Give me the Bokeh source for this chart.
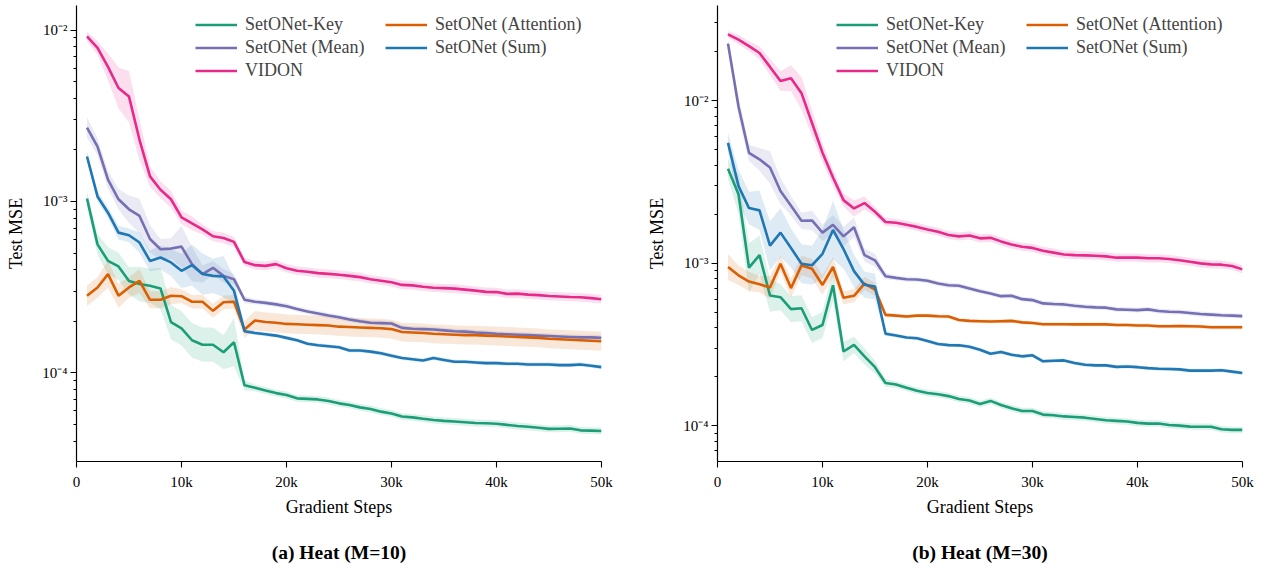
from bokeh.plotting import figure
from bokeh.models import (FixedTicker, CustomJSTickFormatter, Legend, LegendItem,
                          Range1d, ColumnDataSource)
from bokeh.core.properties import value
from bokeh.layouts import row, column
from bokeh.embed import file_html
from bokeh.resources import INLINE

# ---------------- data ----------------
steps = list(range(1000, 50001, 1000))
series_names = ["SetONet-Key", "SetONet (Mean)", "VIDON", "SetONet (Attention)", "SetONet (Sum)"]
series_colors = ["#1b9e77", "#7570b3", "#e7298a", "#d95f02", "#1f77b4"]
captions = ["(a) Heat (M=10)", "(b) Heat (M=30)"]

# Heat (M=10)
key_10 = [1.04e-3, 5.62e-4, 4.50e-4, 4.18e-4, 3.44e-4, 3.30e-4, 3.22e-4, 3.11e-4, 1.98e-4, 1.82e-4,
          1.55e-4, 1.46e-4, 1.46e-4, 1.32e-4, 1.51e-4, 8.47e-5, 8.18e-5, 7.89e-5, 7.62e-5, 7.43e-5,
          7.10e-5, 7.05e-5, 7.00e-5, 6.85e-5, 6.64e-5, 6.50e-5, 6.29e-5, 6.15e-5, 5.94e-5, 5.80e-5,
          5.56e-5, 5.50e-5, 5.40e-5, 5.31e-5, 5.25e-5, 5.20e-5, 5.15e-5, 5.10e-5, 5.08e-5, 5.05e-5,
          4.97e-5, 4.90e-5, 4.85e-5, 4.78e-5, 4.71e-5, 4.72e-5, 4.74e-5, 4.62e-5, 4.60e-5, 4.58e-5]
mean_10 = [2.70e-3, 2.09e-3, 1.34e-3, 1.03e-3, 9.00e-4, 8.23e-4, 6.04e-4, 5.26e-4, 5.31e-4, 5.45e-4,
           4.31e-4, 3.77e-4, 4.10e-4, 3.68e-4, 3.52e-4, 2.67e-4, 2.60e-4, 2.56e-4, 2.51e-4, 2.45e-4,
           2.36e-4, 2.28e-4, 2.22e-4, 2.16e-4, 2.11e-4, 2.05e-4, 2.00e-4, 1.96e-4, 1.95e-4, 1.94e-4,
           1.83e-4, 1.81e-4, 1.80e-4, 1.79e-4, 1.77e-4, 1.75e-4, 1.74e-4, 1.72e-4, 1.71e-4, 1.69e-4,
           1.68e-4, 1.67e-4, 1.66e-4, 1.65e-4, 1.64e-4, 1.63e-4, 1.62e-4, 1.61e-4, 1.61e-4, 1.60e-4]
sum_10 = [1.83e-3, 1.07e-3, 8.60e-4, 6.58e-4, 6.35e-4, 5.76e-4, 4.50e-4, 4.71e-4, 4.41e-4, 3.94e-4,
          4.25e-4, 3.77e-4, 3.68e-4, 3.65e-4, 3.01e-4, 1.75e-4, 1.71e-4, 1.68e-4, 1.65e-4, 1.60e-4,
          1.55e-4, 1.48e-4, 1.45e-4, 1.43e-4, 1.41e-4, 1.35e-4, 1.35e-4, 1.33e-4, 1.30e-4, 1.26e-4,
          1.22e-4, 1.20e-4, 1.18e-4, 1.22e-4, 1.19e-4, 1.16e-4, 1.16e-4, 1.15e-4, 1.14e-4, 1.14e-4,
          1.13e-4, 1.13e-4, 1.12e-4, 1.12e-4, 1.12e-4, 1.11e-4, 1.11e-4, 1.12e-4, 1.10e-4, 1.08e-4]
attn_10 = [2.82e-4, 3.15e-4, 3.77e-4, 2.82e-4, 3.15e-4, 3.44e-4, 2.67e-4, 2.67e-4, 2.82e-4, 2.80e-4,
           2.60e-4, 2.60e-4, 2.30e-4, 2.58e-4, 2.60e-4, 1.79e-4, 2.02e-4, 1.98e-4, 1.96e-4, 1.93e-4,
           1.92e-4, 1.91e-4, 1.90e-4, 1.89e-4, 1.86e-4, 1.85e-4, 1.84e-4, 1.83e-4, 1.82e-4, 1.80e-4,
           1.73e-4, 1.72e-4, 1.71e-4, 1.69e-4, 1.68e-4, 1.67e-4, 1.66e-4, 1.66e-4, 1.65e-4, 1.64e-4,
           1.63e-4, 1.62e-4, 1.61e-4, 1.60e-4, 1.58e-4, 1.57e-4, 1.56e-4, 1.55e-4, 1.54e-4, 1.53e-4]
vidon_10 = [9.19e-3, 7.86e-3, 6.10e-3, 4.59e-3, 4.09e-3, 2.29e-3, 1.40e-3, 1.17e-3, 1.03e-3, 8.08e-4,
            7.45e-4, 6.88e-4, 6.27e-4, 6.12e-4, 5.81e-4, 4.43e-4, 4.25e-4, 4.21e-4, 4.31e-4, 4.08e-4,
            3.94e-4, 3.89e-4, 3.82e-4, 3.78e-4, 3.74e-4, 3.68e-4, 3.62e-4, 3.52e-4, 3.45e-4, 3.38e-4,
            3.26e-4, 3.24e-4, 3.18e-4, 3.14e-4, 3.12e-4, 3.10e-4, 3.06e-4, 3.02e-4, 2.97e-4, 2.96e-4,
            2.89e-4, 2.90e-4, 2.86e-4, 2.84e-4, 2.81e-4, 2.79e-4, 2.77e-4, 2.76e-4, 2.73e-4, 2.69e-4]

# Heat (M=30)
key_30 = [3.80e-3, 2.65e-3, 9.37e-4, 1.12e-3, 6.32e-4, 6.17e-4, 5.21e-4, 5.28e-4, 3.88e-4, 4.16e-4,
          7.31e-4, 2.86e-4, 3.14e-4, 2.67e-4, 2.29e-4, 1.83e-4, 1.79e-4, 1.71e-4, 1.64e-4, 1.59e-4,
          1.56e-4, 1.52e-4, 1.46e-4, 1.43e-4, 1.36e-4, 1.42e-4, 1.34e-4, 1.28e-4, 1.23e-4, 1.23e-4,
          1.17e-4, 1.16e-4, 1.14e-4, 1.13e-4, 1.12e-4, 1.10e-4, 1.08e-4, 1.07e-4, 1.06e-4, 1.04e-4,
          1.03e-4, 1.03e-4, 1.01e-4, 1.00e-4, 9.87e-5, 9.84e-5, 9.84e-5, 9.51e-5, 9.42e-5, 9.42e-5]
mean_30 = [2.24e-2, 9.19e-3, 4.77e-3, 4.35e-3, 3.87e-3, 2.78e-3, 2.25e-3, 1.82e-3, 1.83e-3, 1.54e-3,
           1.72e-3, 1.46e-3, 1.66e-3, 1.12e-3, 1.04e-3, 8.30e-4, 8.11e-4, 7.95e-4, 7.92e-4, 7.78e-4,
           7.49e-4, 7.31e-4, 7.25e-4, 6.98e-4, 6.72e-4, 6.51e-4, 6.26e-4, 6.30e-4, 6.00e-4, 5.92e-4,
           5.65e-4, 5.60e-4, 5.57e-4, 5.47e-4, 5.39e-4, 5.34e-4, 5.32e-4, 5.19e-4, 5.17e-4, 5.14e-4,
           5.19e-4, 5.07e-4, 5.02e-4, 5.00e-4, 4.93e-4, 4.86e-4, 4.82e-4, 4.78e-4, 4.75e-4, 4.72e-4]
sum_30 = [5.49e-3, 2.98e-3, 2.18e-3, 2.11e-3, 1.28e-3, 1.54e-3, 1.24e-3, 9.91e-4, 9.70e-4, 1.14e-3,
          1.60e-3, 1.22e-3, 8.93e-4, 7.35e-4, 7.18e-4, 3.68e-4, 3.59e-4, 3.49e-4, 3.45e-4, 3.32e-4,
          3.18e-4, 3.13e-4, 3.12e-4, 3.06e-4, 2.93e-4, 2.77e-4, 2.84e-4, 2.73e-4, 2.67e-4, 2.71e-4,
          2.49e-4, 2.51e-4, 2.52e-4, 2.43e-4, 2.37e-4, 2.35e-4, 2.35e-4, 2.30e-4, 2.31e-4, 2.29e-4,
          2.26e-4, 2.24e-4, 2.23e-4, 2.22e-4, 2.18e-4, 2.18e-4, 2.18e-4, 2.19e-4, 2.15e-4, 2.11e-4]
attn_30 = [9.46e-4, 8.41e-4, 7.70e-4, 7.40e-4, 7.08e-4, 9.91e-4, 7.02e-4, 9.68e-4, 9.24e-4, 7.34e-4,
           9.46e-4, 6.12e-4, 6.29e-4, 7.48e-4, 6.87e-4, 4.80e-4, 4.75e-4, 4.69e-4, 4.75e-4, 4.75e-4,
           4.71e-4, 4.69e-4, 4.47e-4, 4.41e-4, 4.39e-4, 4.37e-4, 4.39e-4, 4.41e-4, 4.32e-4, 4.28e-4,
           4.21e-4, 4.21e-4, 4.21e-4, 4.20e-4, 4.21e-4, 4.20e-4, 4.20e-4, 4.16e-4, 4.16e-4, 4.13e-4,
           4.13e-4, 4.09e-4, 4.09e-4, 4.10e-4, 4.09e-4, 4.07e-4, 4.03e-4, 4.03e-4, 4.03e-4, 4.03e-4]
vidon_30 = [2.55e-2, 2.37e-2, 2.16e-2, 1.96e-2, 1.61e-2, 1.32e-2, 1.37e-2, 1.11e-2, 7.27e-3, 4.77e-3,
            3.36e-3, 2.44e-3, 2.17e-3, 2.34e-3, 2.07e-3, 1.79e-3, 1.77e-3, 1.72e-3, 1.67e-3, 1.61e-3,
            1.56e-3, 1.49e-3, 1.46e-3, 1.48e-3, 1.42e-3, 1.43e-3, 1.36e-3, 1.30e-3, 1.26e-3, 1.24e-3,
            1.19e-3, 1.16e-3, 1.13e-3, 1.12e-3, 1.115e-3, 1.11e-3, 1.10e-3, 1.08e-3, 1.08e-3, 1.08e-3,
            1.07e-3, 1.07e-3, 1.06e-3, 1.04e-3, 1.02e-3, 9.96e-4, 9.82e-4, 9.78e-4, 9.60e-4, 9.15e-4]

# half-width of the shaded band (in decades) for the first 16 steps, then a constant tail value
key_10_sd = [.04, .06, .08, .08, .08, .10, .10, .12, .10, .10, .10, .10, .10, .10, .14, .03]
mean_10_sd = [.06, .05, .05, .06, .08, .10, .08, .06, .06, .12, .10, .05, .04, .04, .03, .02]
vidon_10_sd = [.03, .04, .08, .12, .15, .12, .06, .05, .05, .04, .04, .03, .03, .03, .03, .025]
attn_10_sd = [.06, .06, .08, .07, .06, .07, .05, .05, .05, .04, .04, .04, .04, .04, .04, .05]
sum_10_sd = [.03, .03, .03, .04, .04, .06, .06, .07, .08, .10, .12, .12, .10, .12, .08, .012]
key_10_tail, mean_10_tail, vidon_10_tail, attn_10_tail, sum_10_tail = .02, .015, .025, .055, .012

key_30_sd = [.06, .12, .15, .12, .10, .08, .08, .08, .08, .08, .10, .06, .05, .05, .04, .025]
mean_30_sd = [.03, .06, .05, .07, .10, .08, .06, .05, .06, .05, .06, .06, .06, .04, .04, .02]
vidon_30_sd = [.02, .03, .03, .04, .05, .06, .08, .10, .08, .06, .05, .04, .05, .04, .03, .025]
attn_30_sd = [.08, .06, .06, .05, .07, .05, .06, .06, .06, .06, .06, .04, .04, .04, .04, .015]
sum_30_sd = [.06, .10, .10, .12, .15, .15, .12, .12, .12, .15, .18, .12, .10, .08, .08, .015]
key_30_tail, mean_30_tail, vidon_30_tail, attn_30_tail, sum_30_tail = .02, .015, .025, .012, .012

x_ticks = [0, 10000, 20000, 30000, 40000, 50000]
y_ticks = [1e-4, 1e-3, 1e-2]

FONT = "Liberation Serif"
TOP, FRAME_H, AXIS_H, CAP_H = 5, 458, 56, 47


def band(vals, sd, tail):
    s = sd + [tail] * (len(vals) - len(sd))
    lo = [v * 10 ** (-w) for v, w in zip(vals, s)]
    hi = [v * 10 ** (w) for v, w in zip(vals, s)]
    return lo, hi


def make_panel(data, sds, tails, ylo, yhi, width, border_left, border_right):
    p = figure(width=width, height=TOP + FRAME_H + AXIS_H, y_axis_type="log",
               x_range=Range1d(0, 50000), y_range=Range1d(ylo, yhi),
               output_backend="svg", toolbar_location=None,
               min_border_left=border_left, min_border_right=border_right,
               min_border_top=TOP, min_border_bottom=AXIS_H)
    p.grid.visible = False
    p.outline_line_color = None
    p.background_fill_color = "white"
    p.border_fill_color = "white"

    srcs = []
    for vals, sd, tail, col in zip(data, sds, tails, series_colors):
        lo, hi = band(vals, sd, tail)
        src = ColumnDataSource(dict(x=steps, y=vals, lo=lo, hi=hi))
        p.varea(x="x", y1="lo", y2="hi", source=src, fill_color=col, fill_alpha=0.15)
        srcs.append((src, col))
    lines = []
    for src, col in srcs:
        lines.append(p.line(x="x", y="y", source=src, line_color=col, line_width=2.6))

    # axes
    xa = p.xaxis[0]
    xa.ticker = FixedTicker(ticks=x_ticks)
    xa.formatter = CustomJSTickFormatter(code="return tick == 0 ? '0' : (tick/1000) + 'k';")
    xa.axis_label = "Gradient Steps"
    ya = p.yaxis[0]
    minors = [m * 10 ** e for e in range(-6, 0) for m in range(2, 10)
              if ylo <= m * 10 ** e <= yhi]
    ya.ticker = FixedTicker(ticks=y_ticks, minor_ticks=minors)
    ya.formatter = CustomJSTickFormatter(code="""
        const e = Math.round(Math.log10(tick));
        const sup = {'0':'\u2070','1':'\u00b9','2':'\u00b2','3':'\u00b3','4':'\u2074','5':'\u2075',
                     '6':'\u2076','7':'\u2077','8':'\u2078','9':'\u2079','-':'\u207b'};
        return '10' + String(e).split('').map(c => sup[c]).join('');
    """)
    ya.axis_label = "Test MSE"
    for ax in (xa, ya):
        ax.axis_line_color = "black"
        ax.axis_line_width = 1.2
        ax.major_tick_line_color = "black"
        ax.major_tick_line_width = 1.1
        ax.major_tick_out = 6
        ax.major_tick_in = 0
        ax.minor_tick_line_color = "black"
        ax.minor_tick_out = 3
        ax.minor_tick_in = 0
        ax.major_label_text_font = FONT
        ax.major_label_text_font_size = "15px"
        ax.major_label_text_color = "black"
        ax.axis_label_text_font = FONT
        ax.axis_label_text_font_size = "18px"
        ax.axis_label_text_font_style = "normal"
        ax.axis_label_text_color = "black"
    xa.minor_tick_line_color = None
    xa.major_label_standoff = 6
    xa.axis_label_standoff = 4
    ya.major_label_standoff = 3
    ya.axis_label_standoff = 13

    # legends (two columns)
    cols = [(0, 3, 119, FRAME_H - 10 - 69), (3, 5, 309, FRAME_H - 10 - 46)]
    for a, b, xoff, yoff in cols:
        items = [LegendItem(label=series_names[i], renderers=[lines[i]]) for i in range(a, b)]
        lg = Legend(items=items, location=(xoff, yoff), orientation="vertical",
                    border_line_color=None, background_fill_alpha=0,
                    padding=0, margin=0, spacing=0,
                    glyph_width=42, glyph_height=23, label_height=23, label_standoff=8,
                    label_text_font=FONT, label_text_font_size="18px")
        p.add_layout(lg)
    return p


def make_caption(text, width, border_left, border_right):
    c = figure(width=width, height=CAP_H, x_range=Range1d(0, 1), y_range=Range1d(0, 1),
               output_backend="svg", toolbar_location=None,
               min_border_left=border_left, min_border_right=border_right,
               min_border_top=0, min_border_bottom=0)
    c.axis.visible = False
    c.grid.visible = False
    c.outline_line_color = None
    c.text(x=[0.5], y=[0.30], text=[text], text_align="center", text_baseline="middle",
           text_font=value(FONT), text_font_size="19.5px", text_font_style="bold",
           text_color="black")
    return c


p1 = make_panel([key_10, mean_10, vidon_10, attn_10, sum_10],
                [key_10_sd, mean_10_sd, vidon_10_sd, attn_10_sd, sum_10_sd],
                [key_10_tail, mean_10_tail, vidon_10_tail, attn_10_tail, sum_10_tail],
                3.04e-5, 1.391e-2, 640, 76, 39)
p2 = make_panel([key_30, mean_30, vidon_30, attn_30, sum_30],
                [key_30_sd, mean_30_sd, vidon_30_sd, attn_30_sd, sum_30_sd],
                [key_30_tail, mean_30_tail, vidon_30_tail, attn_30_tail, sum_30_tail],
                6.02e-5, 3.842e-2, 631, 77, 29)
c1 = make_caption(captions[0], 640, 76, 39)
c2 = make_caption(captions[1], 631, 77, 29)

layout = column(row(p1, p2), row(c1, c2))
open("out.html", "w").write(file_html(layout, INLINE))
